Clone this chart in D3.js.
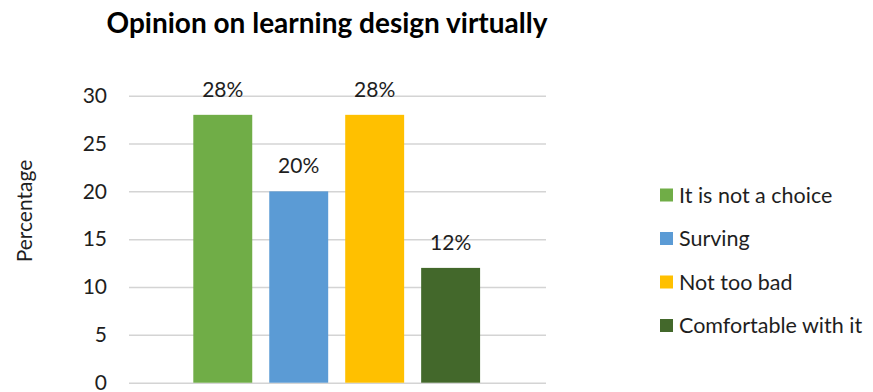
<!DOCTYPE html>
<html>
<head>
<meta charset="utf-8">
<script src="https://cdn.jsdelivr.net/npm/d3@7/dist/d3.min.js"></script>
<style>
  html, body { margin: 0; padding: 0; background: #fff; }
  svg { display: block; font-family: Lato, "Open Sans", sans-serif; }
</style>
</head>
<body>
<svg id="chart" width="873" height="392"></svg>
<script>
// Survey responses: share of respondents per opinion (percent)
const categories = ["It is not a choice", "Surving", "Not too bad", "Comfortable with it"];
const values = [28, 20, 28, 12];
const colors = ["#70AD47", "#5B9BD5", "#FFC000", "#43682B"];
const yTicks = [0, 5, 10, 15, 20, 25, 30];
const title = "Opinion on learning design virtually";
const yTitle = "Percentage";

const svg = d3.select("#chart");

const plot = { left: 129, right: 546, top: 95.7, bottom: 382.7 };
const textColor = "#1e1e1e";

const y = d3.scaleLinear().domain([0, 30]).range([plot.bottom, plot.top]);
const x = d3.scaleBand()
  .domain(categories)
  .range([184.8, 488.6])
  .paddingInner(0.224)
  .paddingOuter(0.112);

// Title
svg.append("text")
  .attr("x", 327).attr("y", 33)
  .attr("text-anchor", "middle")
  .attr("font-size", 28).attr("font-weight", "bold")
  .attr("fill", "#000")
  .text(title);

// Horizontal gridlines + left tick labels via axis
const yAxis = d3.axisLeft(y)
  .tickValues(yTicks)
  .tickSize(-(plot.right - plot.left))
  .tickPadding(22);

const gAxis = svg.append("g")
  .attr("transform", `translate(${plot.left},0)`)
  .call(yAxis);
gAxis.select(".domain").remove();
gAxis.selectAll(".tick line").attr("stroke", "#d4d4d4").attr("stroke-width", 1.5);
gAxis.selectAll(".tick text")
  .attr("font-size", 21)
  .attr("font-family", "Lato, 'Open Sans', sans-serif")
  .attr("fill", textColor);

// Axis title
svg.append("text")
  .attr("transform", "translate(32,211) rotate(-90)")
  .attr("text-anchor", "middle")
  .attr("font-size", 21)
  .attr("fill", textColor)
  .text(yTitle);

// Bars
svg.append("g").selectAll("rect")
  .data(values)
  .join("rect")
  .attr("x", (d, i) => x(categories[i]))
  .attr("y", d => y(d))
  .attr("width", x.bandwidth())
  .attr("height", d => y(0) - y(d))
  .attr("fill", (d, i) => colors[i]);

// Value labels
svg.append("g").selectAll("text")
  .data(values)
  .join("text")
  .attr("x", (d, i) => x(categories[i]) + x.bandwidth() / 2)
  .attr("y", d => y(d) - 18)
  .attr("text-anchor", "middle")
  .attr("font-size", 21)
  .attr("fill", textColor)
  .text(d => d + "%");

// Legend
const legend = svg.append("g").selectAll("g")
  .data(categories)
  .join("g")
  .attr("transform", (d, i) => `translate(660,${195 + i * 43.5})`);
legend.append("rect")
  .attr("x", 0).attr("y", -6.5)
  .attr("width", 13).attr("height", 13)
  .attr("fill", (d, i) => colors[i]);
legend.append("text")
  .attr("x", 19).attr("y", 0)
  .attr("dy", "0.35em")
  .attr("font-size", 21.5)
  .attr("fill", textColor)
  .text(d => d);
</script>
</body>
</html>
